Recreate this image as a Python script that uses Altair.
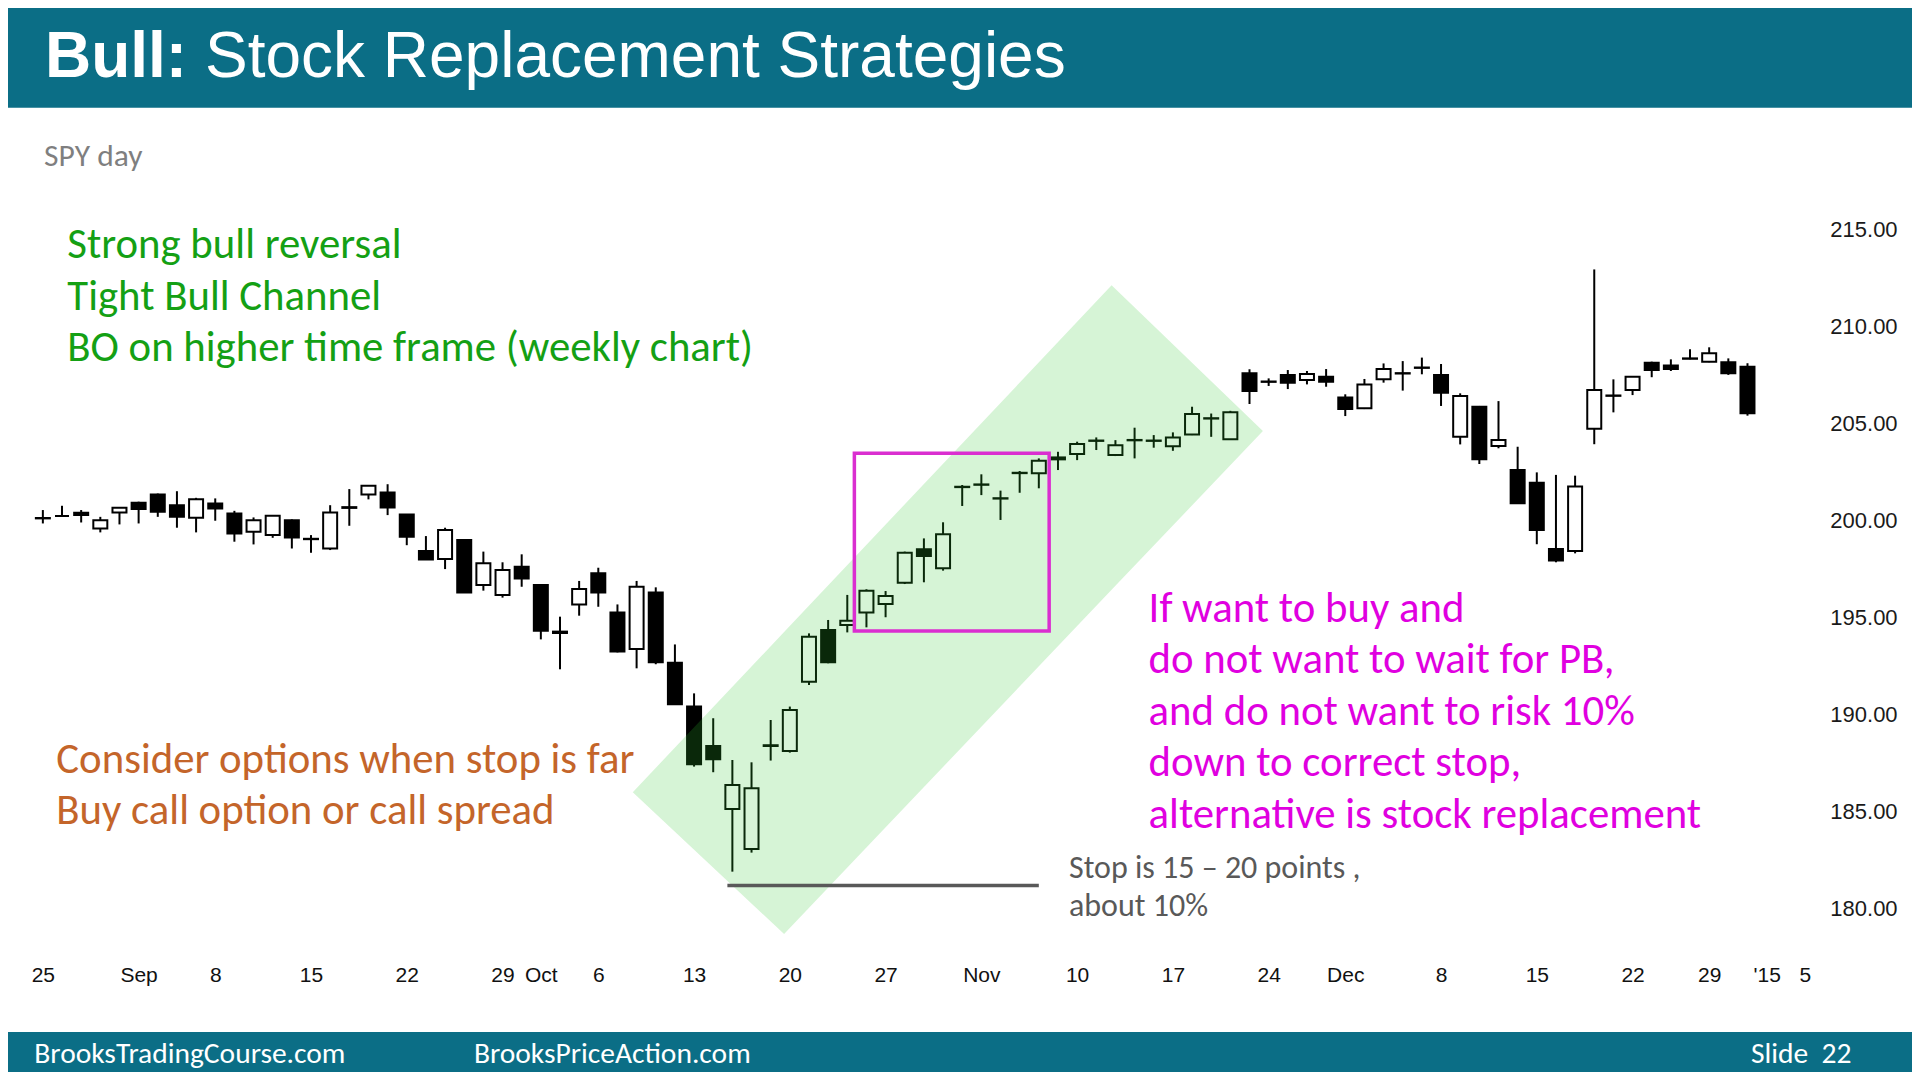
import json
import altair as alt
import pandas as pd

# ---------------- data (SPY daily, 25 Aug 2014 .. 31 Dec 2014, trading-day index) ----------------
opens = [200.12, 200.22, 200.39, 199.58, 200.41, 200.90, 201.33, 200.78, 200.13, 200.87,
         200.35, 199.41, 199.24, 200.01, 199.05, 198.55, 200.68, 201.33, 201.44, 200.30,
         198.42, 198.01, 198.99, 196.67, 196.16, 197.61, 196.67, 194.27, 195.67, 197.27,
         195.25, 193.38, 196.28, 192.67, 190.41, 188.38, 185.14, 183.08, 188.38, 188.12,
         191.69, 194.35, 194.61, 195.25, 195.69, 196.79, 198.51, 197.53, 201.71, 201.83,
         201.12, 202.43, 202.42, 203.24, 203.41, 204.09, 203.36, 204.12, 204.09, 203.82,
         204.42, 205.24, 204.18, 207.57, 207.13, 207.48, 207.23, 207.40, 206.32, 205.77,
         207.26, 207.56, 207.85, 207.48, 204.31, 205.85, 203.83, 202.59, 201.94, 198.53,
         198.42, 204.71, 206.41, 206.71, 208.12, 207.97, 208.32, 208.17, 208.14, 207.91]
highs = [200.53, 200.75, 200.53, 200.18, 200.65, 200.96, 201.38, 201.50, 201.16, 201.13,
         200.49, 200.15, 200.27, 200.05, 199.24, 200.78, 201.61, 201.80, 201.86, 200.32,
         199.19, 199.62, 199.02, 198.39, 197.84, 198.25, 196.70, 195.04, 196.88, 197.56,
         195.67, 196.88, 196.55, 193.61, 191.09, 189.81, 187.66, 187.54, 189.72, 190.41,
         194.18, 194.87, 196.16, 196.45, 196.36, 198.39, 199.07, 199.90, 201.82, 202.37,
         201.53, 202.54, 203.19, 203.53, 204.05, 204.27, 204.13, 204.77, 204.39, 204.53,
         205.85, 205.50, 205.64, 207.78, 207.31, 207.74, 207.69, 207.79, 206.49, 207.28,
         208.08, 208.20, 208.38, 208.05, 206.54, 205.89, 206.14, 203.79, 202.47, 202.34,
         202.30, 212.92, 207.26, 207.43, 208.17, 208.29, 208.81, 208.91, 208.34, 208.09]
lows = [199.84, 200.20, 199.89, 199.38, 199.79, 199.84, 200.18, 199.62, 199.38, 199.98,
        198.90, 198.76, 199.10, 198.55, 198.33, 198.47, 199.72, 201.08, 200.27, 198.72,
        197.96, 197.49, 196.28, 196.38, 196.02, 196.58, 193.87, 192.33, 195.09, 195.55,
        193.20, 192.38, 192.59, 190.49, 187.32, 187.03, 181.91, 182.89, 187.63, 188.04,
        191.52, 192.64, 194.23, 194.49, 195.01, 196.72, 196.81, 197.41, 200.74, 201.30,
        200.02, 201.42, 201.65, 202.59, 203.10, 203.62, 203.31, 203.19, 203.74, 203.58,
        204.39, 204.30, 204.17, 205.99, 206.92, 206.76, 207.00, 206.88, 205.37, 205.73,
        207.09, 206.68, 207.52, 205.89, 203.91, 202.90, 203.71, 200.84, 198.77, 197.84,
        198.30, 203.92, 205.56, 206.45, 207.37, 207.69, 208.29, 208.14, 207.49, 205.39]
closes = [200.10, 200.22, 200.27, 200.01, 200.65, 200.58, 200.44, 200.18, 201.08, 200.61,
          199.32, 200.01, 200.23, 199.12, 199.03, 200.41, 200.64, 201.78, 200.66, 199.15,
          197.99, 199.50, 196.29, 197.79, 197.44, 197.01, 194.32, 194.20, 196.46, 196.28,
          193.24, 196.58, 192.69, 190.53, 187.44, 187.70, 186.37, 186.20, 188.42, 190.23,
          194.01, 192.69, 194.83, 196.38, 196.10, 198.33, 198.16, 199.28, 201.73, 201.85,
          201.14, 202.45, 203.07, 203.14, 203.93, 204.11, 203.87, 204.14, 204.11, 204.27,
          205.47, 205.26, 205.56, 206.66, 207.15, 207.09, 207.53, 207.14, 205.73, 207.00,
          207.79, 207.58, 207.87, 206.57, 206.40, 203.14, 204.14, 200.88, 199.50, 197.93,
          201.74, 206.71, 206.43, 207.40, 207.74, 207.79, 208.34, 208.60, 207.57, 205.51]

# x-axis tick labels (trading-day index -> label)
tick_index = [0, 5, 9, 14, 19, 24, 26, 29, 34, 39, 44, 49, 54, 59, 64, 68, 73, 78, 83, 87, 90, 92]
tick_labels = ["25", "Sep", "8", "15", "22", "29", "Oct", "6", "13", "20", "27", "Nov",
               "10", "17", "24", "Dec", "8", "15", "22", "29", "'15", "5"]
price_ticks = [180, 185, 190, 195, 200, 205, 210, 215]

# annotation geometry in data space (index, price)
channel_x = [30.8, 38.7, 55.8, 63.7]
channel_top = [186.0, 194.25, 212.1, 204.6]
channel_bottom = [186.0, 178.7, 196.42, 204.6]
box_x = [42.37, 52.54]
box_y = [194.30, 203.45]
stop_x = [35.74, 52.0]
stop_price = [181.2]

# ---------------- styling ----------------
ARIAL = "Liberation Sans, Arial, sans-serif"
NARROW = "Liberation Sans Narrow, Arial Narrow, Liberation Sans, Arial, sans-serif"
SLIDE = "Carlito, Calibri, Lato, sans-serif"
TEAL = "#0b6e86"

df = pd.DataFrame({"i": list(range(len(opens))), "open": opens, "high": highs,
                   "low": lows, "close": closes})
df["dir"] = ["up" if c >= o else "down" for o, c in zip(opens, closes)]

xs = alt.Scale(domain=[-1, 93], nice=False, zero=False)
ys = alt.Scale(domain=[177.5, 217], nice=False, zero=False)

label_expr = f"{json.dumps(tick_labels)}[indexof({json.dumps(tick_index)}, datum.value)]"
xaxis = alt.Axis(values=tick_index, labelExpr=label_expr, title=None, grid=False,
                 domain=False, ticks=False, labelPadding=7, labelFont=NARROW,
                 labelFontSize=21, labelColor="#111111", labelFlush=False)
yaxis = alt.Axis(values=price_ticks, format=".2f", orient="right", title=None, grid=False,
                 domain=False, ticks=False, labelAlign="right", labelPadding=68,
                 labelFont=ARIAL, labelFontSize=22, labelColor="#1a1a1a")


def X(f):
    return alt.X(f, scale=xs, axis=xaxis)


def Y(f):
    return alt.Y(f, scale=ys, axis=yaxis, stack=None)


one = pd.DataFrame({"k": [0]})

header = alt.Chart(one).mark_rect(color=TEAL).encode(
    x=alt.value(-40), x2=alt.value(1950), y=alt.value(-200), y2=alt.value(-82.4))
footer = alt.Chart(one).mark_rect(color=TEAL).encode(
    x=alt.value(-40), x2=alt.value(1950), y=alt.value(841.8), y2=alt.value(900))

wicks = alt.Chart(df).mark_rule(color="black", strokeWidth=2).encode(
    x=X("i:Q"), y=Y("low:Q"), y2="high:Q")
bodies = alt.Chart(df).mark_bar(size=14, stroke="black", strokeWidth=2).encode(
    x=X("i:Q"), y=Y("open:Q"), y2="close:Q",
    fill=alt.Fill("dir:N", scale=alt.Scale(domain=["up", "down"], range=["white", "black"]),
                  legend=None))

chan_df = pd.DataFrame({"cx": channel_x, "top": channel_top, "bot": channel_bottom})
channel = alt.Chart(chan_df).mark_area(fill="#32c832", fillOpacity=0.2, strokeWidth=0).encode(
    x=X("cx:Q"), y=Y("top:Q"), y2="bot:Q")

box_df = pd.DataFrame({"x0": [box_x[0]], "x1": [box_x[1]], "y0": [box_y[0]], "y1": [box_y[1]]})
box = alt.Chart(box_df).mark_rect(fillOpacity=0, stroke="#da2ed0", strokeWidth=3.5).encode(
    x=X("x0:Q"), x2="x1:Q", y=Y("y0:Q"), y2="y1:Q")

stop_df = pd.DataFrame({"x0": [stop_x[0]], "x1": [stop_x[1]], "p": stop_price})
stop = alt.Chart(stop_df).mark_rule(color="#595959", strokeWidth=3.5).encode(
    x=X("x0:Q"), x2="x1:Q", y=Y("p:Q"))


def txt(text, x, y, size, color, font=SLIDE, weight="normal", line_height=None):
    kw = dict(align="left", baseline="alphabetic", fontSize=size, color=color, font=font,
              fontWeight=weight, text=text)
    if line_height is not None:
        kw["lineHeight"] = line_height
    return alt.Chart(one).mark_text(**kw).encode(x=alt.value(x), y=alt.value(y))


texts = [
    txt("Bull:", 26.3, -113.2, 64, "white", font=ARIAL, weight="bold"),
    txt("Stock Replacement Strategies", 186.3, -113.2, 64, "white", font=ARIAL),
    txt("SPY day", 25.4, -23.7, 31.5, "#7f7f7f"),
    txt(["Strong bull reversal", "Tight Bull Channel", "BO on higher time frame (weekly chart)"],
        48.6, 68.2, 42.8, "#14a014", line_height=51.4),
    txt(["Consider options when stop is far", "Buy call option or call spread"],
        37.6, 582.5, 42.8, "#c4652a", line_height=51.4),
    txt(["If want to buy and", "do not want to wait for PB,", "and do not want to risk 10%",
         "down to correct stop,", "alternative is stock replacement"],
        1129.9, 431.8, 42.8, "#e000e0", line_height=51.4),
    txt(["Stop is 15 \u2013 20 points ,", "about 10%"], 1050.3, 687.8, 32, "#595959",
        line_height=38),
    txt("BrooksTradingCourse.com", 15.6, 872.8, 29.5, "white"),
    txt("BrooksPriceAction.com", 455.2, 872.8, 29.5, "white"),
    txt("Slide\u00a0\u00a022", 1732.3, 872.8, 29.5, "white"),
]

chart = alt.layer(header, footer, wicks, bodies, channel, box, stop, *texts).properties(
    width=1810.4, height=767.1,
    autosize=alt.AutoSizeParams(type="none"),
    padding={"left": 10.7, "top": 182.2, "right": 82.9, "bottom": 114.8},
    background="white",
).configure_view(strokeWidth=0)

chart.save("out.html", embed_options={"renderer": "svg", "actions": False})
